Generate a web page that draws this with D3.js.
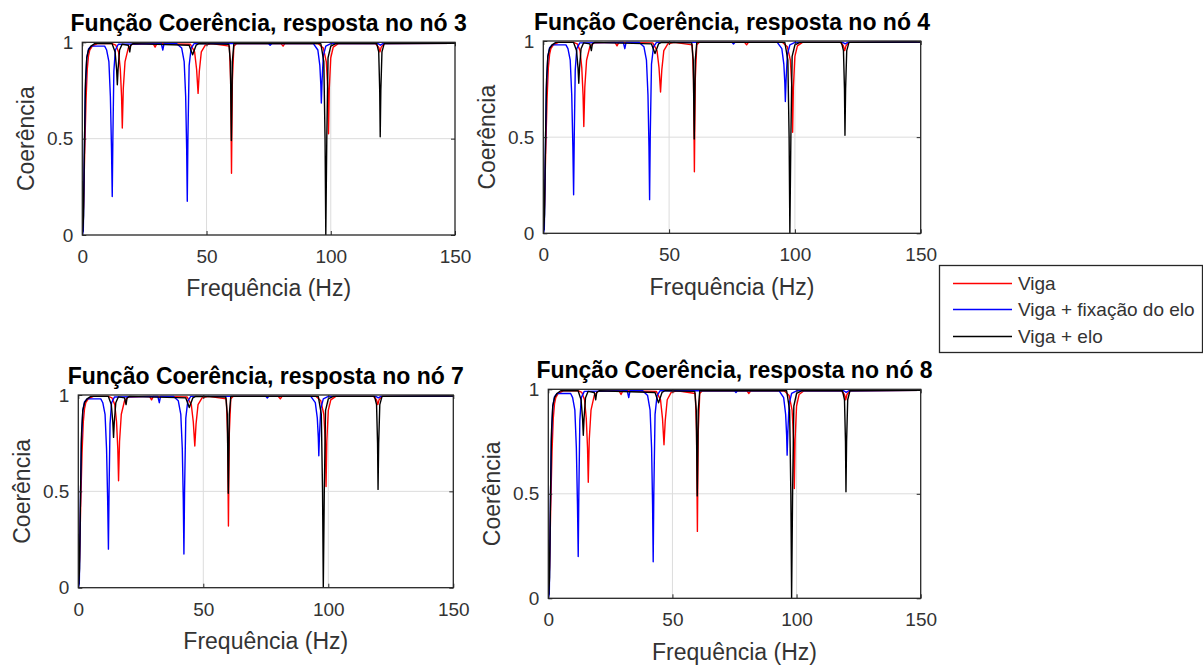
<!DOCTYPE html>
<html>
<head>
<meta charset="utf-8">
<script src="https://cdn.jsdelivr.net/npm/d3@7"></script>
<style>
  html, body { margin: 0; padding: 0; background: #fff; }
  svg { display: block; font-family: "Liberation Sans", Arial, Helvetica, sans-serif; }
</style>
</head>
<body>
<svg id="chart" width="1203" height="666"></svg>
<script>
// Coherence curves, [frequency (Hz), coherence] pairs
const viga = [
  [0, 0.02], [0.5, 0.15], [1, 0.45], [1.5, 0.7], [2, 0.86], [2.5, 0.93], [3, 0.96], [4, 0.98],
  [6, 0.993], [12, 0.993], [13.5, 0.985], [14.6, 0.95], [15.3, 0.86], [15.8, 0.72], [16.1, 0.555],
  [16.5, 0.76], [17.2, 0.9], [18.5, 0.97], [20, 0.99], [28.5, 0.993], [29.3, 0.975], [30, 0.993],
  [43.5, 0.99], [45.2, 0.95], [46.0, 0.86], [46.6, 0.735], [47.1, 0.85], [47.9, 0.95], [49.5, 0.985],
  [52, 0.993], [59.2, 0.98], [59.7, 0.8], [60.05, 0.32], [60.4, 0.8], [61, 0.98], [62, 0.993],
  [80, 0.993], [80.8, 0.98], [81.5, 0.993], [95, 0.993], [97, 0.97], [98.2, 0.9], [98.8, 0.76],
  [99.1, 0.525], [99.4, 0.76], [100, 0.92], [101, 0.975], [103, 0.993], [118, 0.993], [119.3, 0.975],
  [119.8, 0.95], [120.3, 0.975], [121.5, 0.993], [150, 0.995]
];
const vigaFixacao = [
  [0, 0], [0.4, 0.02], [0.8, 0.4], [1.2, 0.75], [1.8, 0.92], [2.5, 0.965], [3.5, 0.98],
  [9, 0.98], [9.8, 0.96], [10.7, 0.9], [11.3, 0.72], [11.75, 0.45], [12.05, 0.2], [12.3, 0.5],
  [12.7, 0.85], [13.3, 0.96], [14.5, 0.99], [31.8, 0.993], [32.4, 0.96], [32.9, 0.993],
  [38, 0.993], [40, 0.97], [41, 0.9], [41.6, 0.72], [42.0, 0.45], [42.25, 0.175], [42.5, 0.5],
  [43, 0.88], [43.8, 0.97], [45, 0.993], [75, 0.993], [75.6, 0.985], [76.2, 0.993],
  [93, 0.993], [94.8, 0.96], [95.6, 0.88], [96.0, 0.78], [96.2, 0.685], [96.5, 0.8], [97, 0.93],
  [98, 0.98], [100, 0.993], [119, 0.993], [120, 0.985], [121, 0.993], [150, 0.995]
];
const vigaElo = [
  [0, 0.28], [0.2, 0.02], [0.5, 0.1], [0.9, 0.5], [1.3, 0.8], [1.8, 0.92], [2.5, 0.96],
  [3.5, 0.98], [5, 0.993], [12, 0.993], [13.2, 0.95], [13.8, 0.86], [14.1, 0.78], [14.4, 0.86],
  [15, 0.96], [16, 0.99], [18.5, 0.985], [19.1, 0.95], [19.5, 0.985], [20.5, 0.993],
  [43, 0.985], [44.4, 0.935], [45.8, 0.985], [47, 0.993], [59, 0.99], [59.6, 0.9], [60, 0.49],
  [60.4, 0.9], [61, 0.993], [96, 0.993], [97.2, 0.9], [97.7, 0.5], [98, 0.0], [98.4, 0.5],
  [98.9, 0.92], [100, 0.98], [102, 0.993], [118.5, 0.993], [119.3, 0.95], [119.7, 0.75],
  [119.9, 0.51], [120.15, 0.75], [120.6, 0.95], [121.5, 0.993], [150, 0.995]
];

const seriesNames = ["Viga", "Viga + fixação do elo", "Viga + elo"];
const seriesColors = ["#ff0000", "#0000ff", "#000000"];
const nodes = [3, 4, 7, 8];
const freqTicks = [0, 50, 100, 150];
const cohTicks = [0, 0.5, 1];

const seriesData = [viga, vigaFixacao, vigaElo];

// Axes boxes of the four subplots
const panels = [
  { left: 82.3, top: 42.3, right: 455, bottom: 235 },
  { left: 543.3, top: 41, right: 920.7, bottom: 233.3 },
  { left: 78.3, top: 395, right: 453.3, bottom: 587.7 },
  { left: 548.3, top: 389.3, right: 920.7, bottom: 598.3 }
];

const svg = d3.select("#chart");
const axisColor = "#262626";
const textColor = "#333333";

panels.forEach((p, i) => {
  const w = p.right - p.left, h = p.bottom - p.top;
  const g = svg.append("g").attr("transform", `translate(${p.left},${p.top})`);
  const x = d3.scaleLinear().domain([0, 150]).range([0, w]);
  const y = d3.scaleLinear().domain([0, 1]).range([h, 0]);

  // grid
  g.append("g").selectAll("line").data(freqTicks.slice(1, -1)).join("line")
    .attr("x1", d => x(d)).attr("x2", d => x(d)).attr("y1", 0).attr("y2", h)
    .attr("stroke", "#dcdcdc").attr("stroke-width", 1);
  g.append("g").selectAll("line").data(cohTicks.slice(1, -1)).join("line")
    .attr("x1", 0).attr("x2", w).attr("y1", d => y(d)).attr("y2", d => y(d))
    .attr("stroke", "#dcdcdc").attr("stroke-width", 1);

  // curves
  const clipId = "clip" + i;
  g.append("clipPath").attr("id", clipId).append("rect")
    .attr("x", 0).attr("y", -1).attr("width", w).attr("height", h + 1);
  const line = d3.line().x(d => x(d[0])).y(d => y(d[1]));
  const lines = g.append("g").attr("clip-path", `url(#${clipId})`);
  seriesData.forEach((s, k) => {
    lines.append("path").datum(s).attr("d", line)
      .attr("fill", "none").attr("stroke", seriesColors[k])
      .attr("stroke-width", 1.4).attr("stroke-linejoin", "round");
  });

  // axes with inward ticks
  const tk = 4;
  const bottomAxis = g.append("g").attr("transform", `translate(0,${h})`)
    .call(d3.axisBottom(x).tickValues(freqTicks).tickSizeInner(-tk).tickSizeOuter(0).tickPadding(14.5));
  const leftAxis = g.append("g")
    .call(d3.axisLeft(y).tickValues(cohTicks).tickFormat(d3.format("")).tickSizeInner(-tk).tickSizeOuter(0).tickPadding(9));
  const topAxis = g.append("g")
    .call(d3.axisTop(x).tickValues(freqTicks).tickFormat("").tickSizeInner(-tk).tickSizeOuter(0));
  const rightAxis = g.append("g").attr("transform", `translate(${w},0)`)
    .call(d3.axisRight(y).tickValues(cohTicks).tickFormat("").tickSizeInner(-tk).tickSizeOuter(0));
  [bottomAxis, leftAxis, topAxis, rightAxis].forEach(a => {
    a.select(".domain").remove();
    a.selectAll(".tick line").attr("stroke", axisColor);
    a.selectAll(".tick text").attr("fill", textColor).style("font-size", "19px")
      .style("font-family", '"Liberation Sans", Arial, sans-serif');
  });

  // box
  g.append("rect").attr("x", 0).attr("y", 0).attr("width", w).attr("height", h)
    .attr("fill", "none").attr("stroke", axisColor).attr("stroke-width", 1.3);

  // labels
  g.append("text").attr("x", w / 2).attr("y", h + 61.5).attr("text-anchor", "middle")
    .attr("fill", textColor).style("font-size", "23px").text("Frequência (Hz)");
  g.append("text").attr("transform", `translate(-48.5,${h / 2}) rotate(-90)`)
    .attr("text-anchor", "middle").attr("fill", textColor).style("font-size", "23px").text("Coerência");
  g.append("text").attr("x", w / 2).attr("y", -11.5).attr("text-anchor", "middle")
    .attr("fill", "#000").style("font-size", "23px").style("font-weight", "bold")
    .text(`Função Coerência, resposta no nó ${nodes[i]}`);
});

// legend
const lg = svg.append("g").attr("transform", "translate(939.5,265.5)");
lg.append("rect").attr("x", 0).attr("y", 0).attr("width", 263).attr("height", 87)
  .attr("fill", "#fff").attr("stroke", axisColor).attr("stroke-width", 1.3);
seriesNames.forEach((name, k) => {
  const yy = Math.round(18 + k * 26.3);
  lg.append("line").attr("x1", 13.5).attr("x2", 72.5).attr("y1", yy).attr("y2", yy)
    .attr("stroke", seriesColors[k]).attr("stroke-width", 1.5);
  lg.append("text").attr("x", 78.5).attr("y", yy).attr("dy", "0.35em")
    .attr("fill", textColor).style("font-size", "19px").text(name);
});
</script>
</body>
</html>
